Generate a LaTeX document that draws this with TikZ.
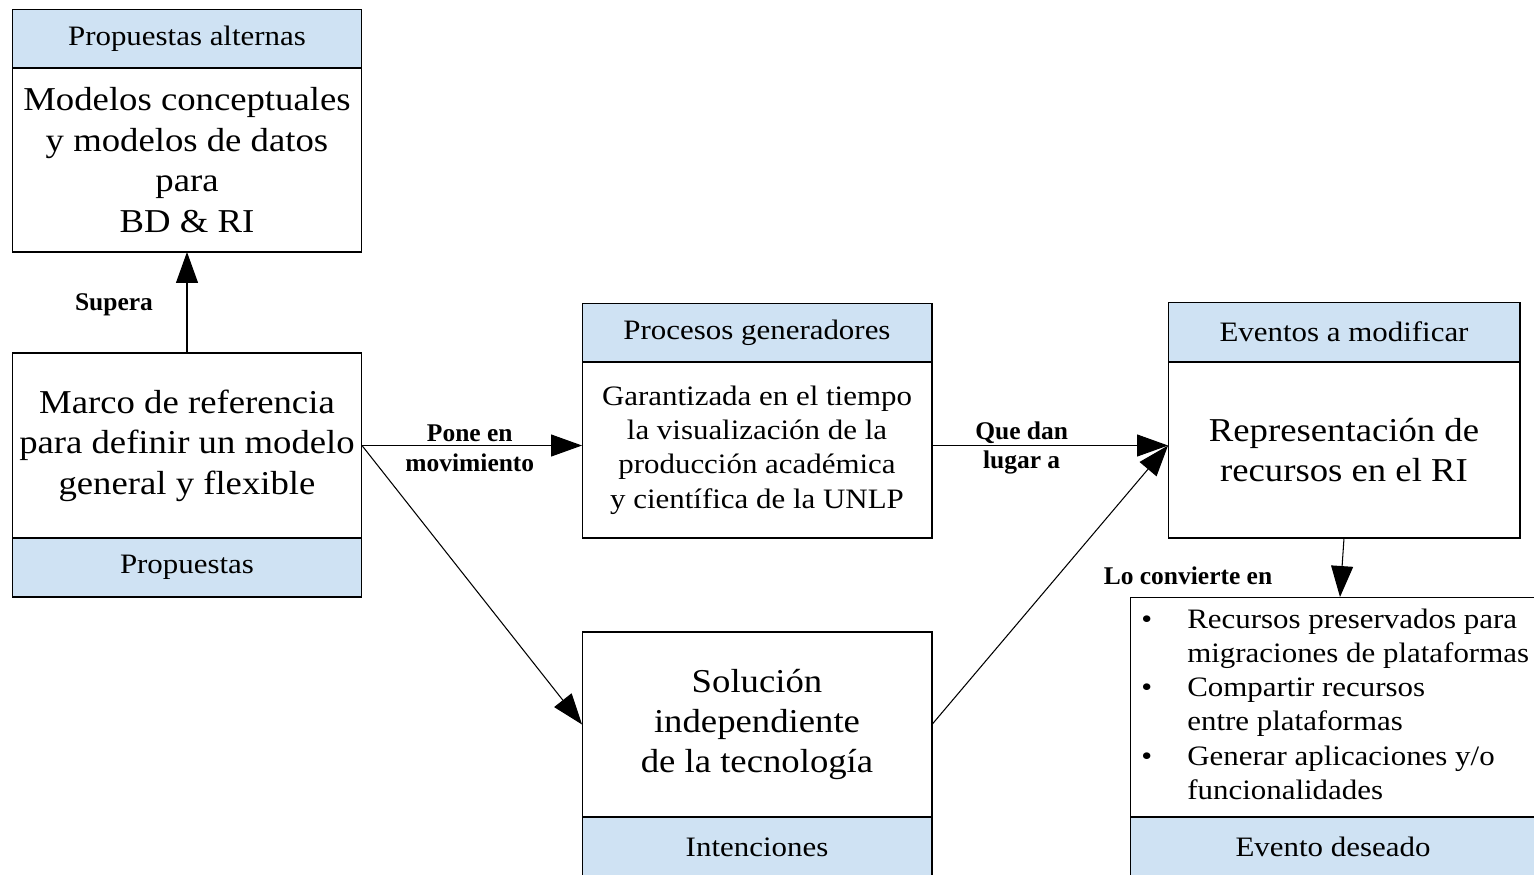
\documentclass[tikz,border=0pt]{standalone}
\usepackage{fontspec}
\setmainfont{Liberation Serif}[FakeStretch=1.1, BoldFeatures={FakeStretch=1.0}]
\usetikzlibrary{positioning, arrows.meta}
\definecolor{hdrblue}{HTML}{CFE2F3}
\tikzset{
  box/.style={rectangle, draw=black, line width=0.6pt, inner sep=0pt, outer sep=0pt, align=center, fill=white},
  hdr/.style={box, fill=hdrblue, font=\fontsize{16}{19}\selectfont},
  big/.style={font=\fontsize{19}{23}\selectfont},
  mid/.style={font=\fontsize{16}{19.5}\selectfont},
  lbl/.style={align=center, inner sep=1pt, font=\fontsize{14.5}{16.8}\selectfont\bfseries},
  link/.style={line width=0.6pt, -{Triangle[length=0.62cm, width=0.44cm]}}
}
\begin{document}
\begin{tikzpicture}[x=0.02cm, y=-0.02cm]
\useasboundingbox (0,0) rectangle (1534,875);

% bodies
\node[box, big, minimum width=7cm, minimum height=3.68cm] (1) at (187,160) {Modelos conceptuales\\y modelos de datos\\para\\BD \& RI};
\node[box, big, minimum width=7cm, minimum height=3.7cm] (2) at (187,445.5) {Marco de referencia\\para definir un modelo\\general y flexible};
\node[box, mid, minimum width=7cm, minimum height=3.52cm] (3) at (757,450) {Garantizada en el tiempo\\la visualización de la\\producción académica\\y científica de la UNLP};
\node[box, big, minimum width=7cm, minimum height=3.7cm] (4) at (757,724.5) {Solución\\independiente\\de la tecnología};
\node[box, big, minimum width=7.04cm, minimum height=3.52cm] (5) at (1344,450) {Representación de\\recursos en el RI};
\node[box, minimum width=8.12cm, minimum height=4.4cm] (6) at (1333,707) {};
\node[mid, anchor=west, inner sep=0pt] (66) at (1141,707) {%
  \begin{tabular}{@{}l@{\hspace{20pt}}l@{}}
  \textbullet & Recursos preservados para\\
              & migraciones de plataformas\\
  \textbullet & Compartir recursos\\
              & entre plataformas\\
  \textbullet & Generar aplicaciones y/o\\
              & funcionalidades
  \end{tabular}};

% headers and footers
\node[hdr, minimum width=7cm, minimum height=1.18cm, above=0pt of 1] (11) {Propuestas alternas};
\node[hdr, minimum width=7cm, minimum height=1.18cm, below=0pt of 2] (22) {Propuestas};
\node[hdr, minimum width=7cm, minimum height=1.18cm, above=0pt of 3] (33) {Procesos generadores};
\node[hdr, minimum width=7cm, minimum height=1.2cm, below=0pt of 4] (44) {Intenciones};
\node[hdr, minimum width=7.04cm, minimum height=1.2cm, above=0pt of 5] (55) {Eventos a modificar};
\node[hdr, minimum width=8.12cm, minimum height=1.2cm, below=0pt of 6] (67) {Evento deseado};

% connectors
\draw[link] (2) -- (1);
\node[lbl] (7) at (114,305) {Supera};
\draw[link] (2.east) --node[lbl, pos=0.49, yshift=-1.5pt] {Pone en\\movimiento} (2.east -| 3.west);
\draw[link] (2.east) -- (4.west);
\draw[link] (3.east |- 2.east) --node[lbl, pos=0.38, yshift=-1.5pt] {Que dan\\lugar a} (5.west |- 2.east);
\draw[link] (4.east) -- (5.west |- 2.east);
\draw[link] (5.south) -- (6.north -| 1340,0);
\node[lbl] (8) at (1188,576) {Lo convierte en};
\end{tikzpicture}
\end{document}
